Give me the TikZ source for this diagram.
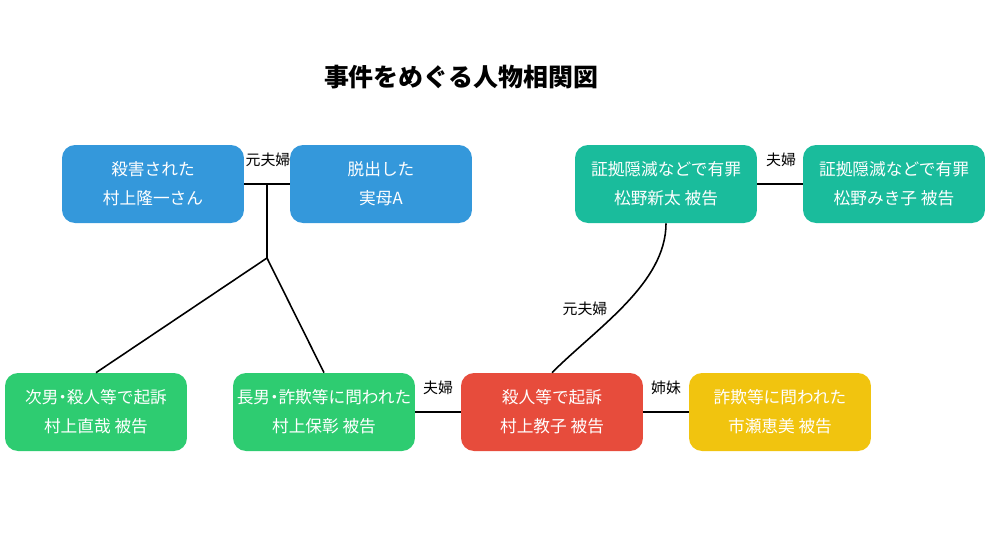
\documentclass[tikz,border=0pt]{standalone}
\usepackage{fontspec}
\setmainfont{Noto Sans CJK JP}
\usepackage{tikz}
\usetikzlibrary{calc}
\definecolor{cblue}{RGB}{52,152,219}
\definecolor{cteal}{RGB}{26,188,156}
\definecolor{cgreen}{RGB}{46,204,113}
\definecolor{cred}{RGB}{231,76,60}
\definecolor{cyellow}{RGB}{241,196,15}
\newcommand{\nakadot}{\kern-0.25em・\kern-0.25em}
\begin{document}
\begin{tikzpicture}[x=0.02cm,y=-0.02cm,
    person/.style={rectangle,rounded corners=0.26cm,minimum width=3.64cm,minimum height=1.56cm,
        align=center,text=white,font=\fontsize{9.5}{16.5}\selectfont,inner sep=0pt},
    rel/.style={font=\fontsize{8.5}{10}\selectfont,inner sep=1pt},
    link/.style={line width=0.9pt}]
    \useasboundingbox (0,0) rectangle (1000,535);
    % タイトル
    \node[font=\fontsize{14.2}{17}\selectfont\bfseries] (title) at (461,77) {事件をめぐる人物相関図};
    % 上の段
    \node[person,fill=cblue] (takaichi) at (153,184) {殺害された\\村上隆一さん};
    \node[person,fill=cblue] (mother) at (381,184) {脱出した\\実母A};
    \node[person,fill=cteal] (shinta) at (666,184) {証拠隠滅などで有罪\\松野新太 被告};
    \node[person,fill=cteal] (mikiko) at (894,184) {証拠隠滅などで有罪\\松野みき子 被告};
    % 下の段
    \node[person,fill=cgreen] (naoya) at (96,412) {次男\nakadot 殺人等で起訴\\村上直哉 被告};
    \node[person,fill=cgreen] (yasuaki) at (324,412) {長男\nakadot 詐欺等に問われた\\村上保彰 被告};
    \node[person,fill=cred] (noriko) at (552,412) {殺人等で起訴\\村上教子 被告};
    \node[person,fill=cyellow] (emi) at (780,412) {詐欺等に問われた\\市瀬恵美 被告};
    % 関係の線
    \draw[link] (takaichi) -- (mother);
    \coordinate (mid) at ($(takaichi.east)!0.5!(mother.west)$);
    \coordinate (fork) at (267,258);
    \draw[link] (mid) -- (fork);
    \foreach \c in {naoya,yasuaki} {
        \draw[link] (fork) -- (\c.north);
    }
    \draw[link] (shinta) -- (mikiko);
    \draw[link] (yasuaki) -- (noriko);
    \draw[link] (noriko) -- (emi);
    \draw[link] (shinta.south) .. controls +(0,60) and +(45,-45) .. (noriko.north);
    % 関係のラベル
    \foreach \n/\x/\y/\t in {lexa/268/160/元夫婦, lfufu/781/160/夫婦, lexb/585/309/元夫婦,
                             lfufub/438/388/夫婦, lshimai/666/388/姉妹} {
        \node[rel] (\n) at (\x,\y) {\t};
    }
\end{tikzpicture}
\end{document}
